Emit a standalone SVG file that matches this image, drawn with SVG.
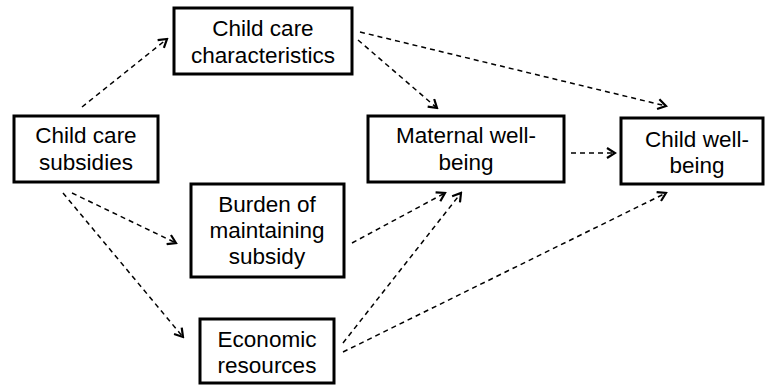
<svg xmlns="http://www.w3.org/2000/svg" width="766" height="385" viewBox="0 0 766 385">
<style>
.box{fill:#fff;stroke:#000;stroke-width:3}
.t{font-family:"Liberation Sans",Arial,sans-serif;font-size:22.5px;fill:#000;text-anchor:middle}
.c{fill:none;stroke:#000;stroke-width:1.5;stroke-dasharray:5 4;marker-end:url(#ah)}
</style>
<defs>
<marker id="ah" viewBox="0 0 12 12" refX="10" refY="6" markerWidth="12" markerHeight="12" markerUnits="userSpaceOnUse" orient="auto">
<path d="M2,1 L10,6 L2,11" fill="none" stroke="#000" stroke-width="2.2"/>
</marker>
</defs>
<rect width="766" height="385" fill="#fff"/>
<g id="connectors">
<line class="c" x1="82" y1="107" x2="167" y2="39"/>
<line class="c" x1="358" y1="40" x2="437" y2="108"/>
<line class="c" x1="360" y1="32" x2="666" y2="106"/>
<line class="c" x1="571" y1="153" x2="615" y2="153"/>
<line class="c" x1="72" y1="193" x2="176" y2="243"/>
<line class="c" x1="63" y1="193" x2="183" y2="337"/>
<line class="c" x1="352" y1="243" x2="445" y2="193"/>
<line class="c" x1="343" y1="343" x2="461" y2="193"/>
<line class="c" x1="343" y1="352" x2="666" y2="193"/>
</g>
<g id="n-characteristics">
<rect class="box" x="174" y="8" width="178" height="66"/>
<text class="t" x="263" y="36">Child care</text>
<text class="t" x="263" y="63">characteristics</text>
</g>
<g id="n-subsidies">
<rect class="box" x="14" y="116" width="144" height="66"/>
<text class="t" x="86" y="143">Child care</text>
<text class="t" x="86" y="170">subsidies</text>
</g>
<g id="n-burden">
<rect class="box" x="191" y="184" width="153" height="93"/>
<text class="t" x="267" y="212">Burden of</text>
<text class="t" x="267" y="238">maintaining</text>
<text class="t" x="267" y="264">subsidy</text>
</g>
<g id="n-economic">
<rect class="box" x="200" y="319" width="134" height="64"/>
<text class="t" x="267" y="347">Economic</text>
<text class="t" x="267" y="373">resources</text>
</g>
<g id="n-maternal">
<rect class="box" x="368" y="116" width="196" height="66"/>
<text class="t" x="466" y="143">Maternal well-</text>
<text class="t" x="466" y="170">being</text>
</g>
<g id="n-child">
<rect class="box" x="621" y="118" width="142" height="66"/>
<text class="t" x="697" y="147">Child well-</text>
<text class="t" x="697" y="173">being</text>
</g>
</svg>
